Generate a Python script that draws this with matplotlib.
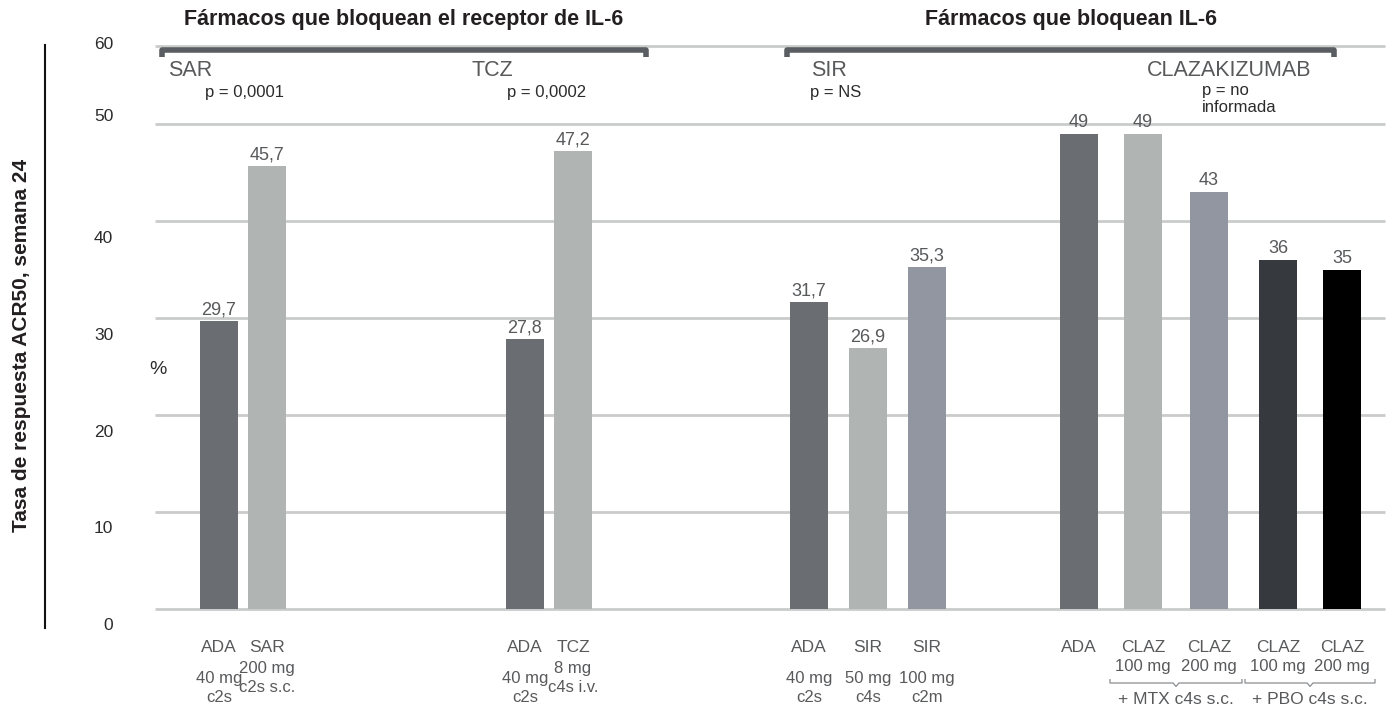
import matplotlib
matplotlib.use("Agg")
import matplotlib.pyplot as plt
from matplotlib.lines import Line2D
from matplotlib.transforms import ScaledTranslation

plt.rcParams["font.family"] = ["Liberation Sans", "DejaVu Sans"]

# ACR50 response at week 24 (%), one entry per bar
values = [29.7, 45.7, 27.8, 47.2, 31.7, 26.9, 35.3, 49, 49, 43, 36, 35]
value_labels = ["29,7", "45,7", "27,8", "47,2", "31,7", "26,9", "35,3",
                "49", "49", "43", "36", "35"]
drug_names = ["ADA", "SAR", "ADA", "TCZ", "ADA", "SIR", "SIR",
              "ADA", "CLAZ", "CLAZ", "CLAZ", "CLAZ"]
doses = ["40 mg\nc2s", "200 mg\nc2s s.c.", "40 mg\nc2s", "8 mg\nc4s i.v.",
         "40 mg\nc2s", "50 mg\nc4s", "100 mg\nc2m",
         "", "100 mg", "200 mg", "100 mg", "200 mg"]
bar_colors = ["#6a6e72", "#b0b5b3", "#6a6e72", "#b0b5b3", "#6a6e72", "#b0b5b3",
              "#9196a0", "#6a6e72", "#b0b5b3", "#9196a0", "#363a3e", "#000000"]

# Study headers and p values
study_names = ["SAR", "TCZ", "SIR", "CLAZAKIZUMAB"]
p_values = ["p = 0,0001", "p = 0,0002", "p = NS", "p = no\ninformada"]
class_titles = ["Fármacos que bloquean el receptor de IL-6",
                "Fármacos que bloquean IL-6"]
combo_labels = ["+ MTX c4s s.c.", "+ PBO c4s s.c."]

y_ticks = [0, 10, 20, 30, 40, 50, 58]
y_tick_labels = ["0", "10", "20", "30", "40", "50", "60"]

# layout (x in pixel-like units across the plot)
bar_x = [219, 267, 525, 573, 809, 868, 927, 1079, 1143, 1209, 1278, 1342]
bar_width = 38
study_x = [168, 472, 811, 1147]
p_x = [205, 507, 810, 1202]
bracket_spans = [(162, 646), (787, 1334)]
title_x = [404, 1071]
combo_pairs = [(8, 9), (10, 11)]
tick_label_drop = [15, 15, 16, 16, 16, -9, -3]  # px below each grid line

TEXT = "#58595b"
PX = 9.7  # pixels per percentage point


def ypx(py):
    # vertical pixel position -> data value (baseline sits at pixel 609)
    return (609 - py) / PX


fig = plt.figure(figsize=(13.95, 7.10), dpi=100)
ax = fig.add_axes([155 / 1395, 101 / 710, 1230 / 1395, 582 / 710])
ax.set_xlim(155, 1385)
ax.set_ylim(0, 60)

ax.hlines(y_ticks, 155, 1385, color="#c9cccb", lw=2, zorder=0, clip_on=False)
ax.bar(bar_x, values, width=bar_width, color=bar_colors, zorder=2)

for x, v, lab in zip(bar_x, values, value_labels):
    ax.text(x, v + 0.25, lab, ha="center", va="bottom", fontsize=13, color=TEXT)

for spine in ax.spines.values():
    spine.set_visible(False)
ax.set_xticks([])
ax.set_yticks(y_ticks)
ax.set_yticklabels(y_tick_labels, fontsize=12.5, color="#2b2b2b")
ax.tick_params(axis="y", length=0, pad=30)
for lab, drop in zip(ax.get_yticklabels(), tick_label_drop):
    lab.set_transform(lab.get_transform()
                      + ScaledTranslation(0, -drop / 100, fig.dpi_scale_trans))

# category labels below the baseline
for x, name, dose in zip(bar_x, drug_names, doses):
    ax.text(x, ypx(648), name, ha="center", va="center", fontsize=12.5,
            color=TEXT, clip_on=False)
    if not dose:
        continue
    if "\n" not in dose:
        ax.text(x, ypx(666), dose, ha="center", va="center", fontsize=12,
                color=TEXT, clip_on=False)
    else:
        cy = 678 if name in ("SAR", "TCZ") else 688
        ax.text(x, ypx(cy), dose, ha="center", va="center", fontsize=12,
                color=TEXT, linespacing=1.25, clip_on=False)

# braces grouping the clazakizumab arms
for (a, b), lab in zip(combo_pairs, combo_labels):
    x0, x1 = bar_x[a] - 33, bar_x[b] + 33
    xm = (x0 + x1) / 2
    yb = ypx(683)
    h = 0.35
    ax.plot([x0, x0, xm - 3, xm, xm + 3, x1, x1],
            [yb + h, yb, yb, yb - h, yb, yb, yb + h],
            color="#8a8d90", lw=0.9, clip_on=False)
    ax.text(xm, ypx(699), lab, ha="center", va="center", fontsize=12.5,
            color=TEXT, clip_on=False)

# class brackets and titles
for (x0, x1), title, tx in zip(bracket_spans, class_titles, title_x):
    yb = ypx(49.5)
    ax.plot([x0, x0, x1, x1], [yb - 0.8, yb, yb, yb - 0.8], color="#5a5e62",
            lw=4, solid_capstyle="butt", clip_on=False, zorder=3)
    ax.text(tx, ypx(19), title, ha="center", va="center", fontsize=15.5,
            fontweight="bold", color="#231f20", clip_on=False)

for x, name in zip(study_x, study_names):
    ax.text(x, ypx(70), name, ha="left", va="center", fontsize=15.5,
            color=TEXT, clip_on=False)
for x, p in zip(p_x, p_values):
    if "\n" in p:
        ax.text(x, ypx(83), p, ha="left", va="top", fontsize=12,
                color="#2b2b2b", linespacing=1.15)
    else:
        ax.text(x, ypx(92), p, ha="left", va="center", fontsize=12,
                color="#2b2b2b")

ax.text(149, ypx(370), "%", ha="left", va="center", fontsize=14,
        color="#2b2b2b", clip_on=False)

# vertical rule and axis title on the far left
fig.add_artist(Line2D([45 / 1395, 45 / 1395], [1 - 45 / 710, 1 - 628 / 710],
                      color="#111111", lw=1.5))
fig.text(22 / 1395, 1 - 345 / 710, "Tasa de respuesta ACR50, semana 24",
         rotation=90, ha="center", va="center", fontsize=15, fontweight="bold",
         color="#231f20")

fig.savefig("out.png", dpi=100, facecolor="white")
